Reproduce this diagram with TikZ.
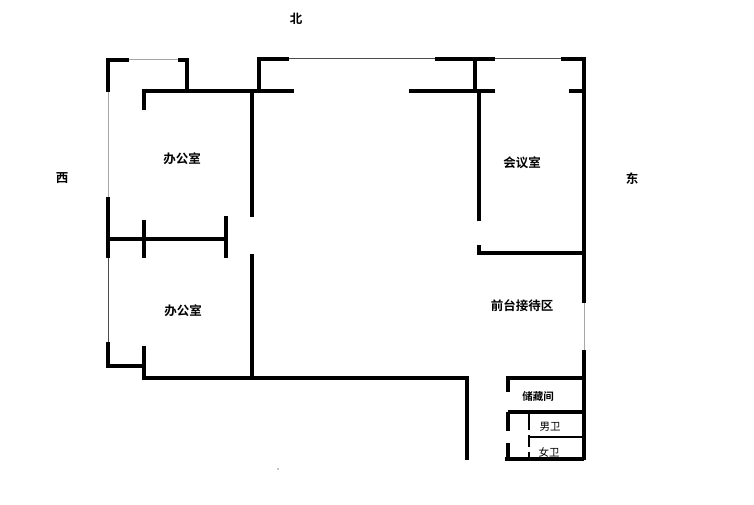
\documentclass[tikz,border=0pt]{standalone}
\usepackage{fontspec}
\newfontfamily\cjk{Noto Sans CJK SC}[BoldFont={Noto Sans CJK SC Bold}]
\tikzset{
 wall/.style={line width=3.6pt,line cap=butt,line join=miter,black},
 inner/.style={line width=2.4pt,line cap=butt,black},
 glass/.style={line width=1pt,gray!70},
 glassd/.style={line width=1pt,black!70},
 lab/.style={font=\cjk\bfseries\fontsize{12.5}{14}\selectfont,inner sep=0pt,text=black},
 labb/.style={font=\cjk\bfseries\fontsize{10.5}{12}\selectfont,inner sep=0pt,text=black},
 labs/.style={font=\cjk\fontsize{10.5}{12}\selectfont,inner sep=0pt,text=black}
}
\begin{document}
\begin{tikzpicture}[x=1pt,y=-1pt]
\useasboundingbox (0,0) rectangle (754,505);
% thin window lines
\draw[glass] (129,60) -- (178,60);
\draw[glass] (108,92) -- (108,197);
\draw[glassd] (289,59) -- (435,59);
\draw[glassd] (495,59) -- (561,59);
\draw[glassd] (108,258) -- (108,342);
\draw[glass] (584,303) -- (584,350);
% north-west
\draw[wall] (108,92) -- (108,60) -- (129,60);
\draw[wall] (178,60) -- (187,60) -- (187,91);
\draw[wall] (144,110) -- (144,91) -- (294,91);
\draw[wall] (259,91) -- (259,59) -- (289,59);
\draw[wall] (252,91) -- (252,217);
\draw[wall] (252,254) -- (252,378);
% west partition
\draw[wall] (108,197) -- (108,258);
\draw[wall] (108,239) -- (226,239);
\draw[wall] (144,220) -- (144,258);
\draw[wall] (226,216) -- (226,258);
% south-west
\draw[wall] (108,342) -- (108,366) -- (144,366);
\draw[wall] (144,346) -- (144,378) -- (467,378) -- (467,460);
% north-east
\draw[wall] (435,59) -- (495,59);
\draw[wall] (475,59) -- (475,91);
\draw[wall] (409,91) -- (495,91);
\draw[wall] (479,91) -- (479,221);
\draw[wall] (479,245) -- (479,253) -- (584,253);
\draw[wall] (561,59) -- (584,59) -- (584,303);
\draw[wall] (569,91) -- (584,91);
% south-east
\draw[wall] (584,350) -- (584,460);
\draw[wall] (508,392) -- (508,378) -- (584,378);
\draw[wall] (508,412) -- (508,431);
\draw[wall] (508,412) -- (584,412);
\draw[wall] (508,443) -- (508,459);
\draw[wall] (505,459) -- (584,459);
\draw[inner] (529,414) -- (529,430);
\draw[inner] (529,435) -- (529,447);
\draw[inner] (529,452) -- (529,458);
\draw[inner] (529,437) -- (584,437);
% small marks
\fill (306,376.5) rectangle (318,378.5);
\fill (375,376.5) rectangle (387,378.5);
\fill (278,469) circle (0.6);
% labels
\node[lab] (n) at (296,19) {北};
\node[lab] (w) at (62,178) {西};
\node[lab] (e) at (632,179) {东};
\node[lab] (o1) at (182,159) {办公室};
\node[lab] (o2) at (183,311) {办公室};
\node[lab] (m) at (522,163) {会议室};
\node[lab] (r) at (522,306) {前台接待区};
\node[labb] (s) at (538,396) {储藏间};
\node[labs] (b) at (550,427) {男卫};
\node[labs] (g) at (549,452) {女卫};
\end{tikzpicture}
\end{document}
